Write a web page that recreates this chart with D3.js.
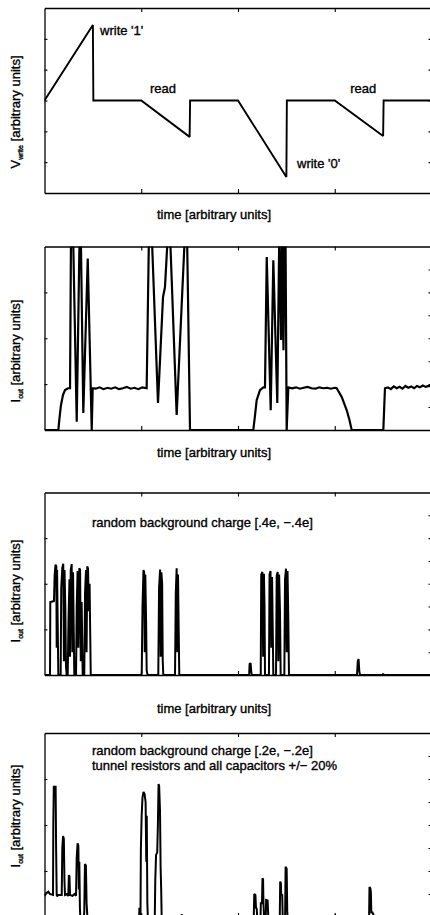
<!DOCTYPE html>
<html><head><meta charset="utf-8">
<script src="https://cdn.jsdelivr.net/npm/d3@7"></script>
<style>
html,body{margin:0;padding:0;background:#fff;overflow:hidden}
svg{display:block}
text{font-family:"Liberation Sans",Arial,Helvetica,sans-serif;fill:#000;font-size:13px;stroke:#000;stroke-width:0.35px}
</style></head>
<body>
<script>
// ---------- data (time in arbitrary units 0..400) ----------
const xTicks = [100, 200, 300];
const xLabel = "time [arbitrary units]";
const yLabelUnits = "[arbitrary units]";

// panel 1: write voltage
const p1T = [0, 50, 50.5, 100, 150, 150.5, 200, 250, 250.5, 300, 350, 350.5, 400];
const p1V = [3.0, 5.45, 3.0, 3.0, 1.82, 3.0, 3.0, 0.52, 3.0, 3.0, 1.85, 3.0, 3.0];
const p1Notes = ["write '1'", "read", "write '0'", "read"];
const p1NoteT = [57.4, 109, 261, 316];
const p1NoteV = [5.12, 3.24, 0.81, 3.24];

// panel 2: output current, nominal circuit
const p2T = [0, 14.3, 15.5, 17.0, 19.1, 21.2, 24.3, 26.4, 27.4, 29.5, 33.3, 36.0, 36.7, 37.5, 40.1, 44.7, 48.8, 49.8,
  53, 57, 61, 65, 69, 73, 77, 81, 85, 89, 93, 97, 101, 105.6,
  108.0, 110.8, 117.3, 122.5, 124.5, 127.6, 129.7, 136.6, 145.2, 147.3, 150.4,
  215.8, 217.5, 219.3, 222.7, 226.2, 227.9, 229.7, 233.8, 236.5, 240.6, 242.7, 244.5, 245.5, 247.0, 248.1, 249.1, 250.3, 252.0,
  256, 260, 264, 268, 272, 276, 280, 284, 288, 292, 296, 300, 302.0,
  307.2, 312.4, 315.2, 317.5, 350.2, 351.9,
  355, 358, 361, 364, 367, 370, 373, 376, 379, 382, 385, 388, 391, 394, 397, 400];
const p2V = [0, 0, 0.26, 0.54, 0.76, 0.87, 0.91, 0.91, 4.3, 4.3, 0.18, 3.87, 4.3, 4.3, 0.37, 3.74, 0, 0.91,
  0.90, 0.93, 0.89, 0.92, 0.90, 0.93, 0.89, 0.91, 0.94, 0.90, 0.92, 0.89, 0.93, 0.91,
  4.3, 4.3, 0.59, 2.9, 3.11, 4.3, 4.3, 0.33, 4.3, 4.3, 0,
  0, 0.3, 0.65, 0.87, 0.93, 0.93, 3.77, 0.43, 3.70, 0.59, 4.3, 1.96, 4.3, 1.74, 4.3, 4.3, 0, 0.93,
  0.91, 0.93, 0.90, 0.92, 0.94, 0.91, 0.90, 0.93, 0.91, 0.92, 0.90, 0.92, 0.91,
  0.72, 0.43, 0.22, 0, 0, 0.91,
  0.93, 0.89, 0.95, 0.91, 0.94, 0.90, 0.96, 0.92, 0.95, 0.91, 0.96, 0.93, 0.97, 0.94, 0.96, 0.95];

// panel 3: random background charge [.4e, -.4e]
const p3Note = ["random background charge [.4e, \u2212.4e]"];
const p3T = [0, 5.7, 6.0, 9.8, 10.5, 11.4, 12.2, 12.6, 13.0, 13.6, 14.3,
  16.7, 17.3, 18.4, 19.4, 20.1, 20.7, 21.5, 22.2, 22.9,
  24.0, 24.8, 25.8, 26.4, 27.1, 28.1, 28.8, 29.5, 30.2, 30.8,
  32.6, 33.3, 34.2, 35.0, 36.0, 36.8, 37.5, 38.4, 39.5,
  41.1, 41.9, 42.9, 43.5, 44.2, 45.0, 45.8, 46.6, 47.8,
  100.0, 100.5, 101.3, 102.3, 103.0, 103.6, 104.2, 105.0, 105.6, 106.5,
  117.6, 118.4, 119.5, 120.1, 120.8, 121.6, 122.2, 122.8,
  134.9, 135.7, 136.6, 137.3, 138.0, 138.7, 139.3,
  211.5, 212.0, 213.0, 213.8, 214.2,
  223.5, 224.0, 225.2, 226.0, 226.8, 227.4, 227.9,
  232.0, 232.6, 233.6, 234.4, 235.2, 235.9, 236.5,
  239.3, 240.0, 241.0, 241.7, 242.5, 243.4, 244.1,
  247.9, 248.6, 249.6, 250.4, 251.2, 252.0, 252.7,
  323.0, 323.8, 324.6, 325.4, 326.1,
  349.5, 350.0, 350.5, 400];
const p3V = [0, 0, 1.60, 1.62, 2.20, 2.42, 2.38, 0.6, 2.30, 1.2, 0,
  0, 1.9, 2.35, 2.44, 0.3, 2.30, 1.5, 0.2, 0,
  0, 1.2, 2.1, 0.4, 2.30, 2.43, 0.5, 2.25, 1.0, 0,
  0, 1.5, 2.28, 0.6, 2.34, 2.30, 0.3, 1.60, 0,
  0, 1.8, 2.30, 0.5, 2.38, 2.33, 1.4, 2.0, 0,
  0, 0.05, 1.5, 2.30, 2.25, 0.5, 2.20, 1.2, 0.1, 0,
  0, 1.9, 2.31, 0.4, 2.25, 2.0, 0.3, 0,
  0, 1.8, 2.34, 0.5, 2.20, 1.0, 0,
  0, 0.24, 0.26, 0.05, 0,
  0, 2.20, 2.26, 0.4, 2.22, 1.5, 0,
  0, 2.20, 2.28, 0.6, 2.15, 1.0, 0,
  0, 2.18, 2.26, 0.3, 2.20, 1.4, 0,
  0, 2.10, 2.33, 0.5, 2.28, 1.2, 0,
  0, 0.30, 0.35, 0.08, 0,
  0, 0.03, 0, 0];

// panel 4: random background charge [.2e, -.2e], parameters +/- 20%
const p4Note = ["random background charge [.2e, \u2212.2e]", "tunnel resistors and all capacitors +/\u2212 20%"];
const p4T = [0, 2, 4, 5.5, 8.8, 9.1, 9.6, 11.5, 12.0, 12.6, 13.0, 14.3, 16.5, 17.8, 18.4, 19.2, 20.0, 20.6, 21.2, 23.0, 24.3,
  24.6, 25.2, 25.8, 26.4, 29.0, 31.0, 32.6, 33.3, 34.2, 35.0, 35.5, 36.0, 36.6, 37.0,
  40.5, 41.1, 41.8, 42.8, 43.5, 44.2, 45.0,
  97.8, 98.1, 98.4,
  99.2, 99.6, 100.4, 101.3, 102.3, 103.4, 104.5, 105.2, 105.7, 106.3, 106.8,
  114.0, 114.5, 115.3, 116.5, 117.2, 117.9, 118.5, 119.4, 120.0, 120.6, 121.1,
  141.5, 141.8, 142.2,
  216.3, 216.8, 218.0, 218.6, 219.3, 219.9,
  223.3, 223.6, 224.8, 225.3, 225.9, 226.3, 226.9,
  228.7, 229.1, 230.6, 231.3,
  243.2, 243.6, 244.3, 244.6, 245.7, 246.2,
  248.7, 249.2, 250.3, 250.9, 251.4,
  300.0, 300.3, 300.6,
  335.5, 335.9, 336.8, 337.3, 337.8, 339.0, 340.0, 341.0, 400];
const p4V = [0.46, 0.52, 0.55, 0.50, 0.48, 2.0, 2.83, 2.83, 1.5, 0.48, 0.45, 0.48, 0.48, 0.48, 1.5, 1.76, 1.70, 0.8, 0.48, 0.50, 0.46,
  0.48, 0.91, 0.88, 0.48, 0.46, 0.50, 0.46, 1.3, 1.60, 1.55, 0.6, 1.2, 0.2, 0,
  0, 0.1, 1.15, 1.12, 0.3, 0.05, 0,
  0, 0.2, 0,
  0, 1.45, 2.2, 2.6, 2.72, 2.68, 2.5, 1.2, 2.2, 0.3, 0,
  0, 0.8, 1.35, 1.40, 2.0, 2.89, 2.85, 2.3, 1.1, 0.6, 0,
  0, 0.06, 0,
  0, 0.50, 0.48, 0.2, 0.18, 0,
  0, 0.3, 0.3, 0.84, 0.82, 0.32, 0,
  0, 0.37, 0.36, 0,
  0, 0.77, 0.74, 0.5, 0.48, 0,
  0, 1.09, 1.05, 0.1, 0,
  0, 0.05, 0,
  0, 0.65, 0.62, 0.55, 0.1, 0.1, 0.05, 0, 0];

// ---------- layout ----------
const W = 430, H = 915;
const X0 = 44.5, X1 = 431.5;
const panels = [
  {t: p1T, v: p1V, top: 8, bottom: 193, ymax: 6, leftTicks: [1,2,3,4,5], rightTicks: [1,2,3,4,5], sw: 1.9,
   ylab: "V", sub: "write", ylabY: 112, xlabY: 219},
  {t: p2T, v: p2V, top: 246.5, bottom: 430, ymax: 4, leftTicks: [1,2,3], rightTicks: [0.5,1,1.5,2,2.5,3,3.5], sw: 2.2,
   ylab: "I", sub: "out", ylabY: 351, xlabY: 457},
  {t: p3T, v: p3V, top: 492.5, bottom: 675, ymax: 4, leftTicks: [1,2,3], rightTicks: [0.5,1,1.5,2,2.5,3,3.5], sw: 2.0,
   ylab: "I", sub: "out", ylabY: 591, xlabY: 713},
  {t: p4T, v: p4V, top: 733, bottom: 917, ymax: 4, leftTicks: [1,2,3], rightTicks: [0.5,1,1.5,2,2.5,3,3.5], sw: 2.0,
   ylab: "I", sub: "out", ylabY: 816, xlabY: null}
];

const svg = d3.select("body").append("svg").attr("width", W).attr("height", H);
const x = d3.scaleLinear().domain([0, 400]).range([X0, X1]);

panels.forEach((p, i) => {
  const y = d3.scaleLinear().domain([0, p.ymax]).range([p.bottom, p.top]);
  const g = svg.append("g");
  const cid = "clip" + i;
  svg.append("clipPath").attr("id", cid).append("rect")
    .attr("x", X0).attr("y", p.top).attr("width", X1 - X0).attr("height", p.bottom - p.top);

  const pts = p.t.map((t, k) => [t, p.v[k]]);
  g.append("path").datum(pts)
    .attr("clip-path", `url(#${cid})`)
    .attr("fill", "none").attr("stroke", "#000").attr("stroke-width", p.sw)
    .attr("stroke-linejoin", "miter").attr("stroke-miterlimit", 2)
    .attr("d", d3.line().x(d => x(d[0])).y(d => y(d[1])));

  const ax = (gen, tr) => {
    const a = g.append("g").attr("transform", tr).call(gen);
    a.selectAll("text").remove();
    a.select(".domain").attr("stroke-width", 1.3);
    a.selectAll(".tick line").attr("stroke-width", 1.1);
    return a;
  };
  ax(d3.axisBottom(x).tickValues(xTicks).tickSize(-4).tickSizeOuter(0), `translate(0,${p.bottom})`);
  ax(d3.axisTop(x).tickValues(xTicks).tickSize(-4).tickSizeOuter(0), `translate(0,${p.top})`);
  ax(d3.axisLeft(y).tickValues(p.leftTicks).tickSize(-3).tickSizeOuter(0), `translate(${X0},0)`);
  ax(d3.axisRight(y).tickValues(p.rightTicks).tickSize(-3).tickSizeOuter(0), `translate(${X1},0)`);

  const yl = svg.append("text")
    .attr("transform", `translate(20,${p.ylabY}) rotate(-90)`)
    .attr("text-anchor", "middle");
  yl.append("tspan").text(p.ylab);
  yl.append("tspan").attr("font-size", 7).attr("dy", 3).text(p.sub);
  yl.append("tspan").attr("dy", -3).text(" " + yLabelUnits);

  if (p.xlabY !== null) {
    svg.append("text").attr("x", 214).attr("y", p.xlabY).attr("text-anchor", "middle").text(xLabel);
  }

  if (i === 0) {
    p1Notes.forEach((s, k) => {
      svg.append("text").attr("x", x(p1NoteT[k])).attr("y", y(p1NoteV[k])).attr("font-size", 12).text(s);
    });
  }
  if (i === 2) {
    svg.append("text").attr("x", 92).attr("y", 527).text(p3Note[0]);
  }
  if (i === 3) {
    p4Note.forEach((s, k) => svg.append("text").attr("x", 92).attr("y", 755 + k * 15).text(s));
  }
});
</script>
</body></html>
